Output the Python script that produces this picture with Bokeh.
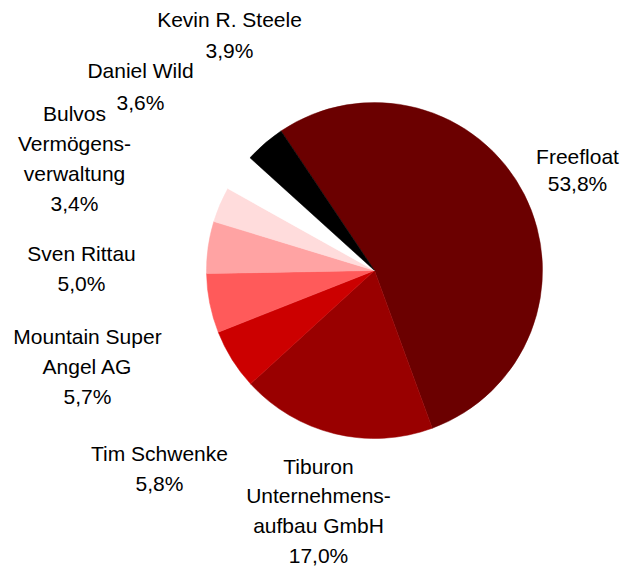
import numpy as np
from bokeh.plotting import figure
from bokeh.models import Range1d, ColumnDataSource
from bokeh.core.properties import value
from bokeh.embed import file_html
from bokeh.resources import INLINE

# Data (clockwise from the top-left edge of "Freefloat")
names = ["Freefloat", "Tiburon Unternehmensaufbau GmbH", "Tim Schwenke",
         "Mountain Super Angel AG", "Sven Rittau", "Bulvos Vermögensverwaltung",
         "Daniel Wild", "Kevin R. Steele"]
labels_pct = ["53,8%", "17,0%", "5,8%", "5,7%", "5,0%", "3,4%", "3,6%", "3,9%"]
# slice sizes as drawn in the picture (the drawn Tiburon slice is larger than its label)
drawn_shares = [53.8, 18.8, 5.8, 5.7, 5.0, 3.4, 3.6, 3.9]
label_lines = [
    ["Freefloat", "53,8%"],
    ["Tiburon", "Unternehmens-", "aufbau GmbH", "17,0%"],
    ["Tim Schwenke", "5,8%"],
    ["Mountain Super", "Angel AG", "5,7%"],
    ["Sven Rittau", "5,0%"],
    ["Bulvos", "Vermögens-", "verwaltung", "3,4%"],
    ["Daniel Wild", "3,6%"],
    ["Kevin R. Steele", "3,9%"],
]
colors = ["#6b0000", "#990000", "#cc0000", "#ff5a5a", "#ffa3a3", "#ffdcdc",
          "#ffffff", "#000000"]

W, H = 622, 567
cx, cy, r = 374, H - 270, 168
start_bearing = 326.2  # degrees clockwise from north

p = figure(width=W, height=H, output_backend="svg", toolbar_location=None,
           x_range=Range1d(0, W), y_range=Range1d(0, H), min_border=0)
p.axis.visible = False
p.grid.visible = False
p.outline_line_color = None
p.background_fill_color = "white"

vals = np.array(drawn_shares, dtype=float)
cum = np.concatenate([[0], np.cumsum(vals)]) / vals.sum() * 360.0
theta0 = 90.0 - start_bearing
starts = np.deg2rad(theta0 - cum[:-1])
ends = np.deg2rad(theta0 - cum[1:])

src = ColumnDataSource(dict(x=[cx] * len(vals), y=[cy] * len(vals),
                            start=starts, end=ends, color=colors, name=names))
p.wedge(x="x", y="y", radius=r, start_angle="start", end_angle="end",
        direction="clock", fill_color="color", line_color="color",
        line_width=0.5, source=src)

# label anchors: (center x, pixel y of first line's cap middle, line spacing)
anchors = [
    (577, 155.5, 27),
    (318, 465.5, 29.7),
    (159, 452.5, 30),
    (87, 335.5, 30),
    (81, 252.5, 30),
    (74, 112.5, 30),
    (140, 70, 31.5),
    (229, 19, 31),
]

tx, ty, tt = [], [], []
for lines, (ax, ay, sp) in zip(label_lines, anchors):
    for i, line in enumerate(lines):
        tx.append(ax)
        ty.append(H - (ay + i * sp))
        tt.append(line)

p.text(x=tx, y=ty, text=tt, text_font=value("Liberation Sans"),
       text_font_size="21px", text_align="center", text_baseline="middle",
       text_color="#000000")

open("out.html", "w").write(file_html(p, INLINE))
